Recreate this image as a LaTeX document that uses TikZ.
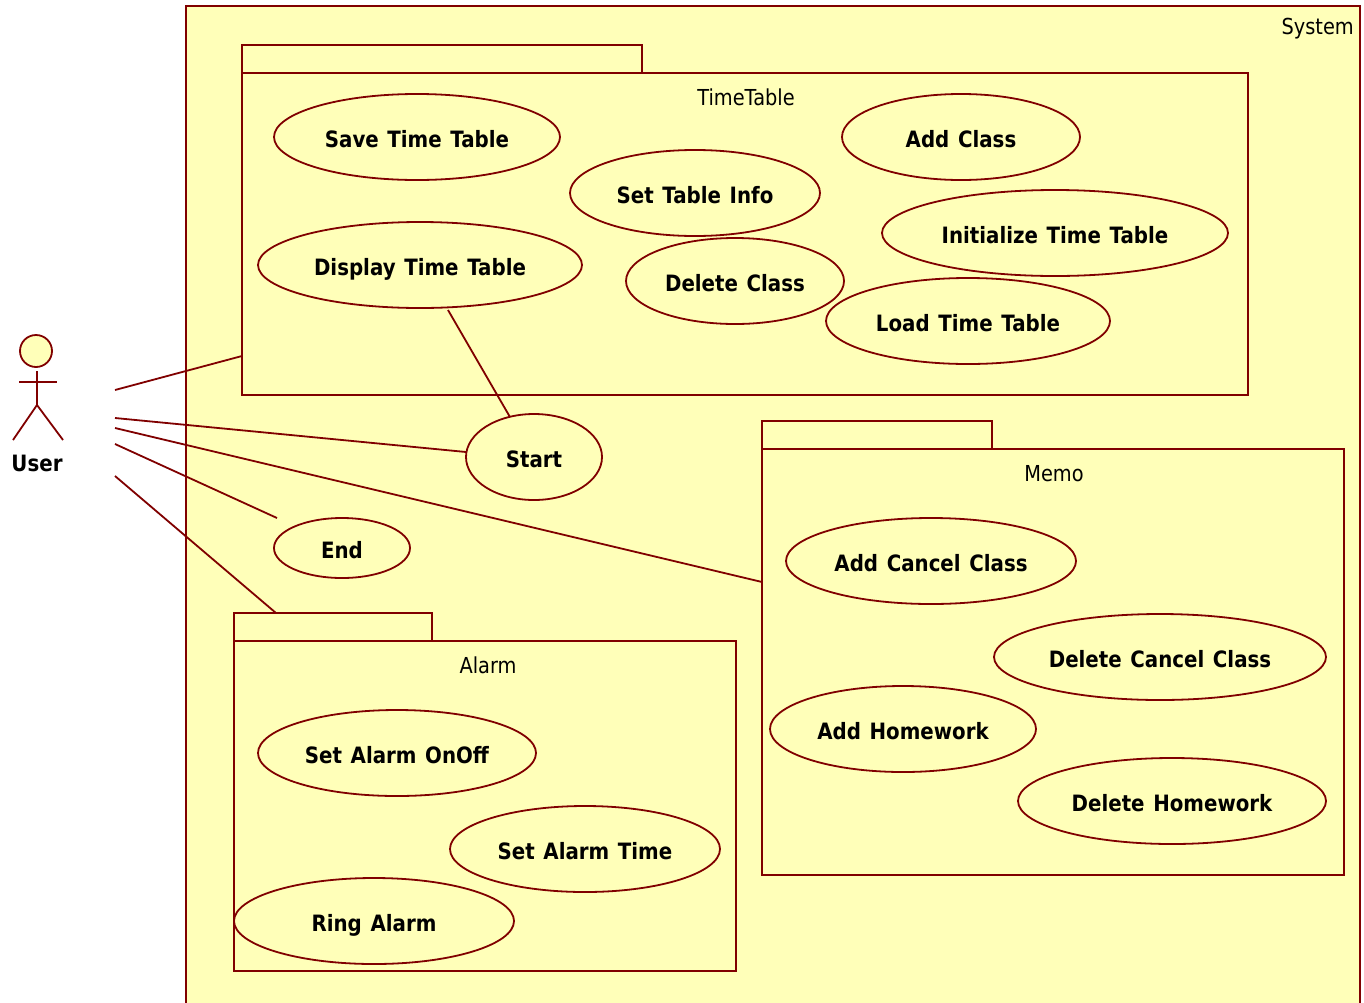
\documentclass[tikz,border=0pt]{standalone}
\usepackage{fontspec}
\setmainfont[FakeStretch=0.88,BoldFeatures={WordSpace=1.25}]{DejaVu Sans}
\usetikzlibrary{shapes.geometric,calc}
\definecolor{umlline}{HTML}{800000}
\definecolor{umlfill}{HTML}{FFFFB9}
\tikzset{
  edge/.style={draw=umlline,line width=1.8bp},
  sysbox/.style={draw=umlline,fill=umlfill,line width=2.2bp},
  pkgbox/.style={rectangle,edge,fill=umlfill,inner sep=0pt,outer sep=0pt},
  usecase/.style={ellipse,edge,fill=umlfill,inner sep=0pt,outer sep=0pt,minimum height=86bp,yshift=-1bp,
    font=\fontsize{22.5bp}{24bp}\selectfont\bfseries,text=black,text height=20bp,text depth=0bp},
  pkglabel/.style={inner sep=0pt,text=black,font=\fontsize{22bp}{24bp}\selectfont},
  actorlabel/.style={inner sep=0pt,text=black,font=\fontsize{22.5bp}{24bp}\selectfont\bfseries}
}
\begin{document}
\begin{tikzpicture}[x=1bp,y=-1bp]
\clip (0,0) rectangle (1364,1002);
\fill[white] (0,0) rectangle (1364,1002);
\draw[sysbox] (186,6) rectangle (1360,1012);
\node[pkglabel,anchor=east] (syslabel) at (1354,29) {System};

% packages
\node[pkgbox,minimum width=400bp,minimum height=28bp] (tttab) at (442,59) {};
\node[pkgbox,minimum width=1006bp,minimum height=322bp] (ttbody) at (745,234) {};
\node[pkglabel] (ttlabel) at (746,97.5) {TimeTable};
\node[pkgbox,minimum width=230bp,minimum height=28bp] (memotab) at (877,435) {};
\node[pkgbox,minimum width=582bp,minimum height=426bp] (memobody) at (1053,662) {};
\node[pkglabel] (memolabel) at (1054,474) {Memo};
\node[pkgbox,minimum width=198bp,minimum height=28bp] (alarmtab) at (333,627) {};
\node[pkgbox,minimum width=502bp,minimum height=330bp] (alarmbody) at (485,806) {};
\node[pkglabel] (alarmlabel) at (488,665.5) {Alarm};

% use cases
\node[usecase,minimum width=286bp] (save) at (417,136) {Save Time Table};
\node[usecase,minimum width=238bp] (addclass) at (961,136) {Add Class};
\node[usecase,minimum width=250bp] (tableinfo) at (695,192) {Set Table Info};
\node[usecase,minimum width=346bp] (init) at (1055,232) {Initialize Time Table};
\node[usecase,minimum width=324bp] (display) at (420,264) {Display Time Table};
\node[usecase,minimum width=218bp] (delclass) at (735,280) {Delete Class};
\node[usecase,minimum width=284bp] (load) at (968,320) {Load Time Table};
\node[usecase,minimum width=136bp] (start) at (534,456) {Start};
\node[usecase,minimum width=136bp,minimum height=60bp] (endcase) at (342,547) {End};
\node[usecase,minimum width=290bp] (addcancel) at (931,560) {Add Cancel Class};
\node[usecase,minimum width=332bp] (delcancel) at (1160,656) {Delete Cancel Class};
\node[usecase,minimum width=266bp] (addhw) at (903,728) {Add Homework};
\node[usecase,minimum width=308bp] (delhw) at (1172,800) {Delete Homework};
\node[usecase,minimum width=278bp] (alarmonoff) at (397,752) {Set Alarm OnOff};
\node[usecase,minimum width=270bp] (alarmtime) at (585,848) {Set Alarm Time};
\node[usecase,minimum width=280bp] (ring) at (374,920) {Ring Alarm};

% actor
\node[circle,edge,fill=umlfill,inner sep=0pt,minimum size=32bp] (head) at (36,351) {};
\coordinate (neck) at (37,371);
\coordinate (hip) at (37,405);
\coordinate (armL) at (19,382);
\coordinate (armR) at (57,382);
\coordinate (footL) at (13,440);
\coordinate (footR) at (63,440);
\draw[edge] (neck) -- (hip);
\draw[edge] (armL) -- (armR);
\draw[edge] (footL) -- (hip) -- (footR);
\node[actorlabel] (userlabel) at (37,463.5) {User};

% connector free ends
\coordinate (u1) at (115,390);
\coordinate (u2) at (115,418);
\coordinate (u3) at (115,428);
\coordinate (u4) at (115,444);
\coordinate (u5) at (115,476);
\coordinate (endfree) at (277,518);

\draw[edge] (u1) -- ($(ttbody.north west)+(0,283)$);
\draw[edge] (u2) -- ($(start.west)+(0,-5)$);
\draw[edge] (u3) -- ($(memobody.north west)+(0,133)$);
\draw[edge] (u4) -- (endfree);
\draw[edge] (u5) -- ($(alarmtab.north west)+(42,0)$);
\draw[edge,shorten <=3bp] (display.-58) -- (start.121);
\end{tikzpicture}
\end{document}
